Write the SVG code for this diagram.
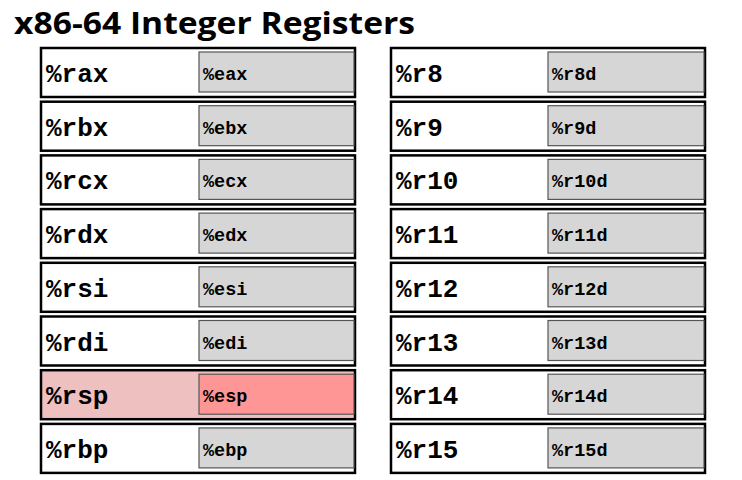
<svg xmlns="http://www.w3.org/2000/svg" width="742" height="480" viewBox="0 0 742 480">
  <style>
    .title { font-family: "Open Sans", "Liberation Sans", sans-serif; font-weight: bold; font-size: 30px; fill: #000; }
    .reg { fill: #fff; stroke: #000; stroke-width: 2.5; }
    .sub { fill: #d6d6d6; stroke: #555; stroke-width: 1.2; }
    .reg.hot { fill: #efc0c0; }
    .sub.hot { fill: #ff9696; }
    .big { font-family: "Liberation Mono", "Courier New", monospace; font-weight: bold; font-size: 26px; fill: #000; }
    .small { font-family: "Liberation Mono", "Courier New", monospace; font-weight: bold; font-size: 18.5px; fill: #000; }
  </style>
  <rect width="742" height="480" fill="#fff"/>
  <text class="title" x="14" y="34" textLength="401" lengthAdjust="spacingAndGlyphs">x86-64 Integer Registers</text>

  <!-- left column: legacy registers -->
  <g id="rax" transform="translate(41,48)">
    <rect class="reg" width="314" height="49"/><rect class="sub" x="158" y="4" width="155" height="40"/>
    <text class="big" x="5" y="34">%rax</text><text class="small" x="162" y="32">%eax</text>
  </g>
  <g id="rbx" transform="translate(41,101.7)">
    <rect class="reg" width="314" height="49"/><rect class="sub" x="158" y="4" width="155" height="40"/>
    <text class="big" x="5" y="34">%rbx</text><text class="small" x="162" y="32">%ebx</text>
  </g>
  <g id="rcx" transform="translate(41,155.4)">
    <rect class="reg" width="314" height="49"/><rect class="sub" x="158" y="4" width="155" height="40"/>
    <text class="big" x="5" y="34">%rcx</text><text class="small" x="162" y="32">%ecx</text>
  </g>
  <g id="rdx" transform="translate(41,209.1)">
    <rect class="reg" width="314" height="49"/><rect class="sub" x="158" y="4" width="155" height="40"/>
    <text class="big" x="5" y="34">%rdx</text><text class="small" x="162" y="32">%edx</text>
  </g>
  <g id="rsi" transform="translate(41,262.8)">
    <rect class="reg" width="314" height="49"/><rect class="sub" x="158" y="4" width="155" height="40"/>
    <text class="big" x="5" y="34">%rsi</text><text class="small" x="162" y="32">%esi</text>
  </g>
  <g id="rdi" transform="translate(41,316.5)">
    <rect class="reg" width="314" height="49"/><rect class="sub" x="158" y="4" width="155" height="40"/>
    <text class="big" x="5" y="34">%rdi</text><text class="small" x="162" y="32">%edi</text>
  </g>
  <g id="rsp" transform="translate(41,370.2)">
    <rect class="reg hot" width="314" height="49"/><rect class="sub hot" x="158" y="4" width="155" height="40"/>
    <text class="big" x="5" y="34">%rsp</text><text class="small" x="162" y="32">%esp</text>
  </g>
  <g id="rbp" transform="translate(41,423.9)">
    <rect class="reg" width="314" height="49"/><rect class="sub" x="158" y="4" width="155" height="40"/>
    <text class="big" x="5" y="34">%rbp</text><text class="small" x="162" y="32">%ebp</text>
  </g>

  <!-- right column: r8 - r15 -->
  <g id="r8" transform="translate(391,48)">
    <rect class="reg" width="314" height="49"/><rect class="sub" x="157" y="4" width="156" height="40"/>
    <text class="big" x="5" y="34">%r8</text><text class="small" x="161" y="32">%r8d</text>
  </g>
  <g id="r9" transform="translate(391,101.7)">
    <rect class="reg" width="314" height="49"/><rect class="sub" x="157" y="4" width="156" height="40"/>
    <text class="big" x="5" y="34">%r9</text><text class="small" x="161" y="32">%r9d</text>
  </g>
  <g id="r10" transform="translate(391,155.4)">
    <rect class="reg" width="314" height="49"/><rect class="sub" x="157" y="4" width="156" height="40"/>
    <text class="big" x="5" y="34">%r10</text><text class="small" x="161" y="32">%r10d</text>
  </g>
  <g id="r11" transform="translate(391,209.1)">
    <rect class="reg" width="314" height="49"/><rect class="sub" x="157" y="4" width="156" height="40"/>
    <text class="big" x="5" y="34">%r11</text><text class="small" x="161" y="32">%r11d</text>
  </g>
  <g id="r12" transform="translate(391,262.8)">
    <rect class="reg" width="314" height="49"/><rect class="sub" x="157" y="4" width="156" height="40"/>
    <text class="big" x="5" y="34">%r12</text><text class="small" x="161" y="32">%r12d</text>
  </g>
  <g id="r13" transform="translate(391,316.5)">
    <rect class="reg" width="314" height="49"/><rect class="sub" x="157" y="4" width="156" height="40"/>
    <text class="big" x="5" y="34">%r13</text><text class="small" x="161" y="32">%r13d</text>
  </g>
  <g id="r14" transform="translate(391,370.2)">
    <rect class="reg" width="314" height="49"/><rect class="sub" x="157" y="4" width="156" height="40"/>
    <text class="big" x="5" y="34">%r14</text><text class="small" x="161" y="32">%r14d</text>
  </g>
  <g id="r15" transform="translate(391,423.9)">
    <rect class="reg" width="314" height="49"/><rect class="sub" x="157" y="4" width="156" height="40"/>
    <text class="big" x="5" y="34">%r15</text><text class="small" x="161" y="32">%r15d</text>
  </g>

  <g id="connectors"/>
</svg>
